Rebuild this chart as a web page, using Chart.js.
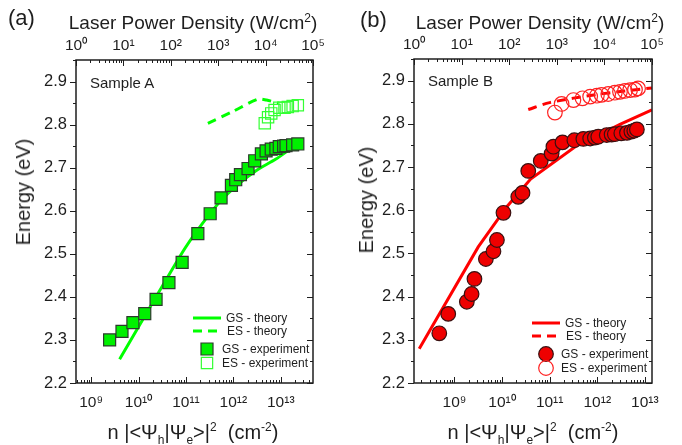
<!DOCTYPE html>
<html>
<head>
<meta charset="utf-8">
<script src="https://cdn.jsdelivr.net/npm/chart.js@4.4.0/dist/chart.umd.min.js"></script>
<style>
  body { margin: 0; width: 682px; height: 445px; overflow: hidden; background: #fff;
         font-family: "Liberation Sans", Arial, sans-serif; color: #1e1e1e; }
  .panel { position: absolute; top: 0; width: 341px; height: 445px; }
  .panel canvas { position: absolute; left: 0; top: 0; }
  .txt { position: absolute; white-space: nowrap; line-height: 1; }
  .tag { font-size: 22px; }
  .ttl { font-size: 19px; transform: translateX(-50%); }
  .ttl sup { font-size: 12px; vertical-align: 7px; }
  .ylab { font-size: 20px; transform: translate(-50%, -50%) rotate(-90deg); }
  .xlab { font-size: 20px; transform: translateX(-50%); }
  .xlab sub { font-size: 12px; vertical-align: -5px; }
  .xlab sup { font-size: 12px; vertical-align: 8px; }
  .samp { font-size: 15px; }
</style>
</head>
<body>
<div class="panel" style="left:0"><canvas id="chartA" width="341" height="445"></canvas></div>
<div class="panel" style="left:341px"><canvas id="chartB" width="341" height="445"></canvas></div>

<div class="txt tag" style="left:8px;top:7px">(a)</div>
<div class="txt tag" style="left:360px;top:9px">(b)</div>
<div class="txt ttl" style="left:193px;top:12px">Laser Power Density (W/cm<sup>2</sup>)</div>
<div class="txt ttl" style="left:540px;top:12px">Laser Power Density (W/cm<sup>2</sup>)</div>
<div class="txt ylab" style="left:23px;top:192px">Energy (eV)</div>
<div class="txt ylab" style="left:366px;top:200px">Energy (eV)</div>
<div class="txt xlab" style="left:193px;top:421px">n |&lt;&Psi;<sub>h</sub>|&Psi;<sub>e</sub>&gt;|<sup>2</sup>&nbsp; (cm<sup>-2</sup>)</div>
<div class="txt xlab" style="left:533px;top:421px">n |&lt;&Psi;<sub>h</sub>|&Psi;<sub>e</sub>&gt;|<sup>2</sup>&nbsp; (cm<sup>-2</sup>)</div>
<div class="txt samp" style="left:90px;top:75px">Sample A</div>
<div class="txt samp" style="left:428px;top:73px">Sample B</div>

<script>
// Sample A
const aGsExpN = [2.45e9, 4.47e9, 7.6e9, 1.35e10, 2.34e10, 4.37e10, 8.3e10, 1.78e11, 3.24e11, 5.5e11,
  9.1e11, 1.12e12, 1.41e12, 2.04e12, 2.82e12, 3.9e12, 4.9e12, 6.3e12, 7.9e12, 9.3e12,
  1.15e13, 1.29e13, 1.78e13, 2.29e13];
const aGsExpE = [2.300, 2.320, 2.340, 2.361, 2.394, 2.433, 2.480, 2.547, 2.593, 2.630,
  2.659, 2.672, 2.684, 2.698, 2.716, 2.732, 2.739, 2.743, 2.745, 2.749,
  2.750, 2.751, 2.753, 2.755];
const aEsExpN = [4.6e12, 5.4e12, 6.3e12, 7.4e12, 9.3e12, 1.2e13, 1.41e13, 1.78e13, 2.29e13];
const aEsExpE = [2.803, 2.817, 2.826, 2.834, 2.839, 2.839, 2.841, 2.843, 2.845];
const aGsThN = [3.98e9, 8.5e10, 1.95e11, 5.1e11, 1.15e12, 3.0e12, 7.9e12, 1.78e13, 2.5e13];
const aGsThE = [2.255, 2.504, 2.562, 2.620, 2.658, 2.693, 2.720, 2.747, 2.756];
const aEsThN = [2.9e11, 1.0e12, 3.3e12, 5.0e12, 8.9e12];
const aEsThE = [2.803, 2.831, 2.859, 2.857, 2.850];

// Sample B
const bGsExpN = [4.8e8, 7.4e8, 1.82e9, 2.29e9, 2.63e9, 4.57e9, 6.6e9, 7.8e9, 1.07e10, 2.19e10,
  2.69e10, 3.55e10, 6.5e10, 1.1e11, 1.2e11, 1.86e11, 3.3e11, 5.1e11, 7.1e11, 8.9e11,
  1.05e12, 1.58e12, 2.0e12, 2.34e12, 3.2e12, 4.2e12, 5.2e12, 6.0e12, 6.8e12];
const bGsExpE = [2.315, 2.360, 2.388, 2.406, 2.441, 2.487, 2.505, 2.531, 2.594, 2.631,
  2.640, 2.691, 2.714, 2.731, 2.747, 2.757, 2.762, 2.765, 2.766, 2.768,
  2.770, 2.774, 2.775, 2.776, 2.778, 2.779, 2.782, 2.784, 2.787];
const bEsExpN = [1.29e11, 1.78e11, 3.16e11, 4.9e11, 7.1e11, 9.8e11, 1.23e12, 1.7e12, 2.34e12,
  3.0e12, 3.8e12, 4.9e12, 6.2e12, 7.2e12];
const bEsExpE = [2.826, 2.846, 2.855, 2.859, 2.863, 2.865, 2.867, 2.869, 2.872,
  2.874, 2.876, 2.878, 2.879, 2.882];
const bGsThN = [1.82e8, 3.16e9, 1.26e10, 3.98e10, 3.55e11, 3.16e12, 1.41e13];
const bGsThE = [2.279, 2.515, 2.608, 2.672, 2.748, 2.800, 2.832];
const bEsThN = [3.55e10, 1.0e11, 1.0e12, 1.41e13];
const bEsThE = [2.833, 2.849, 2.868, 2.883];

const legendLabels = ['GS - theory', 'ES - theory', 'GS - experiment', 'ES - experiment'];

const FONT = '"Liberation Sans", Arial, sans-serif';
const INK = '#1e1e1e';
const sup = { '0': '⁰', '1': '¹', '2': '²', '3': '³', '4': '⁴', '5': '⁵', '6': '⁶', '7': '⁷', '8': '⁸', '9': '⁹', '-': '⁻' };

function pts(xs, ys) {
  return xs.map((x, i) => ({ x: x, y: ys[i] }));
}

function powLabel(v) {
  const e = Math.log10(v);
  if (Math.abs(e - Math.round(e)) > 1e-6) return '';
  return '10' + String(Math.round(e)).split('').map(c => sup[c]).join('');
}

// ticks pointing in (out on the left), frame, minor ticks
const frameTicks = {
  id: 'frameTicks',
  afterDatasetsDraw(chart) {
    const { ctx, chartArea: a, scales } = chart;
    ctx.save();
    ctx.strokeStyle = INK;
    ctx.lineWidth = 1;
    const seg = (x1, y1, x2, y2) => { ctx.beginPath(); ctx.moveTo(x1, y1); ctx.lineTo(x2, y2); ctx.stroke(); };
    ['x', 'x2'].forEach(id => {
      const s = scales[id];
      const e0 = Math.floor(Math.log10(s.min)), e1 = Math.ceil(Math.log10(s.max));
      for (let e = e0; e <= e1; e++) {
        for (let m = 1; m < 10; m++) {
          const v = m * Math.pow(10, e);
          if (v < s.min * 0.999 || v > s.max * 1.001) continue;
          const px = Math.round(s.getPixelForValue(v)) + 0.5;
          const len = m === 1 ? 6 : 3;
          if (id === 'x2') seg(px, a.top, px, a.top + len);
          else seg(px, a.bottom, px, a.bottom - len);
        }
      }
    });
    const y = scales.y;
    for (let k = 0; k <= 15; k++) {
      const v = 2.2 + k * 0.05;
      if (v > y.max + 1e-9) break;
      const py = Math.round(y.getPixelForValue(v)) + 0.5;
      const len = k % 2 === 0 ? 6 : 3;
      seg(a.left - len, py, a.left, py);
      seg(a.right - len, py, a.right, py);
    }
    ctx.lineWidth = 1.5;
    ctx.strokeRect(a.left, a.top, a.right - a.left, a.bottom - a.top);
    ctx.restore();
  }
};

// legend in the lower right of the plot
const innerLegend = {
  id: 'innerLegend',
  afterDraw(chart, args, opts) {
    const { ctx, chartArea: a } = chart;
    const ds = chart.data.datasets;
    ctx.save();
    ctx.font = '12px ' + FONT;
    ctx.fillStyle = INK;
    ctx.textBaseline = 'middle';
    opts.rows.forEach((r, i) => {
      const d = ds[r.ds];
      const yy = a.bottom - opts.offsetY + r.dy;
      if (r.kind === 'line') {
        ctx.save();
        ctx.strokeStyle = d.borderColor;
        ctx.lineWidth = d.borderWidth;
        ctx.setLineDash(d.borderDash || []);
        ctx.beginPath();
        ctx.moveTo(a.right - 120, yy);
        ctx.lineTo(a.right - 92, yy);
        ctx.stroke();
        ctx.restore();
      } else {
        ctx.save();
        ctx.fillStyle = d.backgroundColor;
        ctx.strokeStyle = d.borderColor;
        ctx.lineWidth = d.borderWidth;
        Chart.helpers.drawPoint(ctx, { pointStyle: d.pointStyle, radius: d.pointRadius, borderWidth: d.borderWidth, rotation: 0 }, a.right - 106, yy);
        ctx.restore();
      }
      ctx.fillStyle = INK;
      ctx.fillText(legendLabels[i], a.right - r.tx, yy + 1);
    });
    ctx.restore();
  }
};

function makePanel(id, p) {
  const datasets = [
    { label: legendLabels[2], data: pts(p.gsExpN, p.gsExpE), showLine: false, pointStyle: p.shape,
      pointRadius: p.r, pointHoverRadius: p.r, backgroundColor: p.fill, borderColor: p.edge, borderWidth: 1.2, order: 1 },
    { label: legendLabels[3], data: pts(p.esExpN, p.esExpE), showLine: false, pointStyle: p.shape,
      pointRadius: p.r2, pointHoverRadius: p.r2, backgroundColor: 'rgba(0,0,0,0)', borderColor: p.open, borderWidth: 1.2, order: 2 },
    { label: legendLabels[0], data: pts(p.gsThN, p.gsThE), showLine: true, pointRadius: 0,
      borderColor: p.line, borderWidth: 3, tension: p.tension, order: 3 },
    { label: legendLabels[1], data: pts(p.esThN, p.esThE), showLine: true, pointRadius: 0,
      borderColor: p.line, borderWidth: 3, borderDash: [9, 6], tension: 0.3, order: 4 }
  ];
  const xFont = { family: FONT, size: 15.5 };
  const yFont = { family: FONT, size: 16.5 };
  return new Chart(document.getElementById(id), {
    type: 'scatter',
    data: { datasets: datasets },
    options: {
      responsive: false,
      animation: false,
      events: [],
      layout: { padding: { left: 0, right: p.padR, top: 0, bottom: 0 } },
      plugins: {
        legend: { display: false },
        tooltip: { enabled: false },
        innerLegend: {
          offsetY: p.legY,
          rows: [
            { ds: 2, kind: 'line', dy: 0, tx: 87 },
            { ds: 3, kind: 'line', dy: 13, tx: 86 },
            { ds: 0, kind: 'pt', dy: 31, tx: 91 },
            { ds: 1, kind: 'pt', dy: 45, tx: 91 }
          ]
        }
      },
      scales: {
        x: {
          type: 'logarithmic', position: 'bottom', min: p.xMin, max: p.xMax,
          grid: { display: false, drawTicks: false }, border: { display: false },
          ticks: { autoSkip: false, maxRotation: 0, padding: 10, color: INK, font: xFont, callback: v => powLabel(v) },
          afterFit: s => { s.height = 62; }
        },
        x2: {
          type: 'logarithmic', position: 'top', min: 1, max: 1e5,
          grid: { display: false, drawTicks: false }, border: { display: false },
          ticks: { autoSkip: false, maxRotation: 0, padding: 5, color: INK, font: xFont, callback: v => powLabel(v) },
          afterFit: s => { s.height = p.top; }
        },
        y: {
          type: 'linear', position: 'left', min: 2.2, max: 2.95,
          grid: { display: false, drawTicks: false }, border: { display: false },
          ticks: { stepSize: 0.1, padding: 9, color: INK, font: yFont,
            callback: v => Math.abs(v * 10 - Math.round(v * 10)) < 1e-6 ? v.toFixed(1) : '' },
          afterFit: s => { s.width = p.left; }
        }
      }
    },
    plugins: [frameTicks, innerLegend]
  });
}

makePanel('chartA', {
  gsExpN: aGsExpN, gsExpE: aGsExpE, esExpN: aEsExpN, esExpE: aEsExpE,
  gsThN: aGsThN, gsThE: aGsThE, esThN: aEsThN, esThE: aEsThE,
  shape: 'rect', r: 8.5, r2: 8, fill: '#00f000', edge: '#2c3a2c', open: '#33ff33', line: '#00ff00',
  tension: 0.3, xMin: Math.pow(10, 8.68), xMax: Math.pow(10, 13.68),
  left: 76, padR: 28, top: 60, legY: 65
});

makePanel('chartB', {
  gsExpN: bGsExpN, gsExpE: bGsExpE, esExpN: bEsExpN, esExpE: bEsExpE,
  gsThN: bGsThN, gsThE: bGsThE, esThN: bEsThN, esThE: bEsThE,
  shape: 'circle', r: 7.3, r2: 7.3, fill: '#ee0000', edge: '#3a1010', open: '#ff2020', line: '#ff0000',
  tension: 0, xMin: Math.pow(10, 8.15), xMax: Math.pow(10, 13.15),
  left: 73, padR: 30, top: 59, legY: 60
});
</script>
</body>
</html>
